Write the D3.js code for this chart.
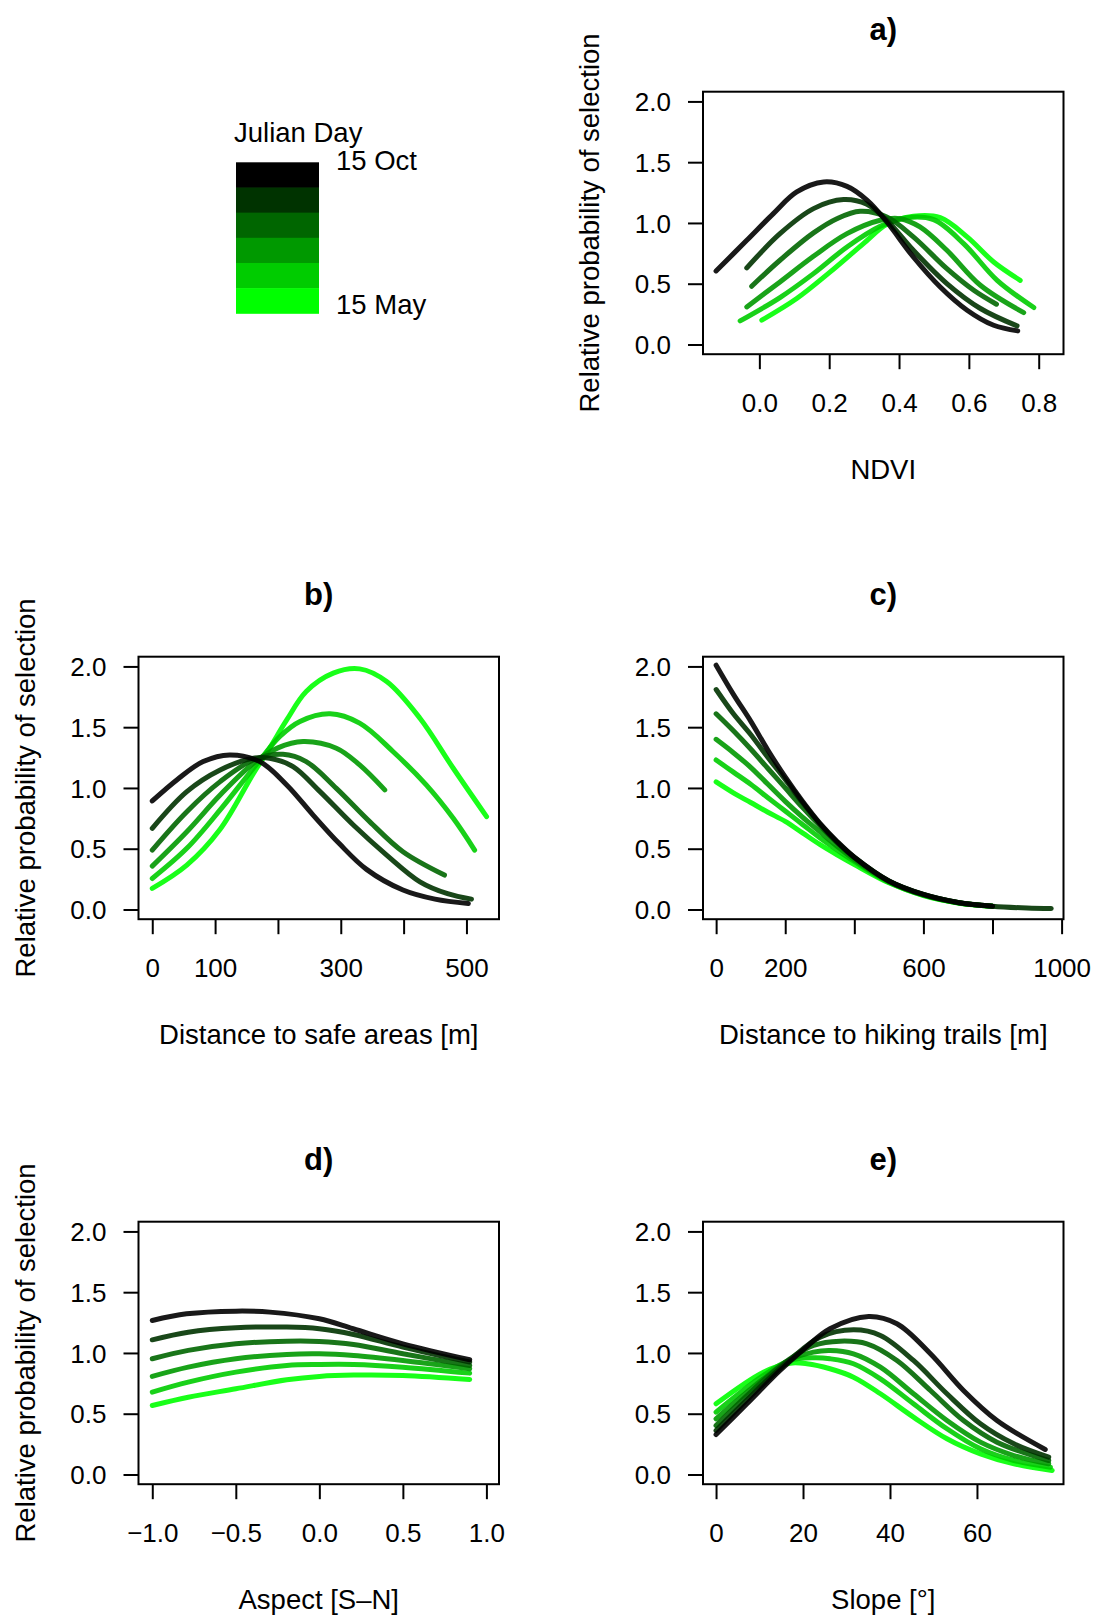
<!DOCTYPE html>
<html lang="en">
<head>
<meta charset="UTF-8">
<title>Relative probability of selection by Julian Day</title>
<script src="https://d3js.org/d3.v7.min.js"></script>
<style>
    body { margin: 0; background: #fff; }
    svg { display: block; font-family: "Liberation Sans", Arial, Helvetica, sans-serif; }
    .box { fill: none; stroke: #000; stroke-width: 2px; }
    .axis path.domain { display: none; }
    .axis line { stroke: #000; stroke-width: 2px; }
    .axis text { font-size: 26px; fill: #000; }
    .curve { fill: none; stroke-width: 5px; stroke-linecap: round; stroke-linejoin: round; }
    .title { font-size: 31px; font-weight: bold; text-anchor: middle; }
    .lab { font-size: 27.5px; text-anchor: middle; }
    .legend text { font-size: 27.5px; }
</style>
</head>
<body>
<div id="chart"></div>
<script>
// colours from 15 Oct (black) to 15 May (bright green)
const dayColors = ["#000000", "#003300", "#006600", "#009900", "#00cc00", "#00ff00"];
const dayLabels = ["15 Oct", "15 May"];

const yTicks = [0, 0.5, 1, 1.5, 2];

// a) NDVI, one list of [x, y] per Julian day (Oct first)
const ndviCurves = [
    [[-0.124, 0.605], [-0.036, 0.857], [0.040, 1.077], [0.107, 1.255], [0.184, 1.337], [0.251, 1.301], [0.309, 1.186], [0.365, 1.008], [0.441, 0.720], [0.518, 0.473], [0.595, 0.282], [0.671, 0.158], [0.740, 0.112]],
    [[-0.036, 0.630], [0.059, 0.912], [0.155, 1.118], [0.241, 1.192], [0.308, 1.153], [0.365, 1.022], [0.441, 0.775], [0.537, 0.501], [0.633, 0.296], [0.738, 0.153]],
    [[-0.022, 0.479], [0.059, 0.693], [0.155, 0.918], [0.222, 1.035], [0.289, 1.096], [0.365, 1.049], [0.441, 0.885], [0.537, 0.624], [0.614, 0.446], [0.679, 0.331]],
    [[-0.036, 0.309], [0.059, 0.515], [0.155, 0.726], [0.251, 0.912], [0.346, 1.022], [0.403, 1.035], [0.460, 0.967], [0.537, 0.775], [0.633, 0.487], [0.757, 0.262]],
    [[-0.055, 0.194], [0.059, 0.386], [0.155, 0.583], [0.251, 0.802], [0.346, 0.972], [0.422, 1.043], [0.499, 1.027], [0.585, 0.830], [0.681, 0.528], [0.786, 0.304]],
    [[0.007, 0.200], [0.107, 0.378], [0.203, 0.597], [0.298, 0.830], [0.365, 0.989], [0.441, 1.055], [0.518, 1.043], [0.595, 0.885], [0.671, 0.679], [0.747, 0.528]]
];

// b) distance to safe areas [m]
const safeCurves = [
    [[0, 0.893], [40, 1.07], [81, 1.217], [123, 1.272], [171, 1.217], [214, 1.025], [256, 0.777], [298, 0.54], [341, 0.33], [399, 0.16], [450, 0.085], [503, 0.049]],
    [[0, 0.668], [55, 0.97], [108, 1.148], [161, 1.245], [187, 1.245], [224, 1.176], [267, 0.97], [320, 0.695], [373, 0.448], [426, 0.228], [470, 0.13], [508, 0.085]],
    [[0, 0.489], [55, 0.805], [108, 1.052], [161, 1.23], [208, 1.277], [245, 1.217], [293, 0.997], [346, 0.723], [399, 0.475], [465, 0.283]],
    [[0, 0.357], [55, 0.64], [108, 0.942], [161, 1.203], [200, 1.33], [240, 1.382], [293, 1.327], [330, 1.19], [370, 0.984]],
    [[0, 0.255], [55, 0.503], [108, 0.819], [161, 1.162], [203, 1.423], [235, 1.547], [283, 1.61], [330, 1.533], [383, 1.3], [436, 1.025], [479, 0.75], [513, 0.489]],
    [[0, 0.173], [55, 0.365], [108, 0.66], [161, 1.12], [187, 1.33], [214, 1.56], [245, 1.794], [288, 1.945], [330, 1.98], [373, 1.876], [426, 1.574], [479, 1.162], [532, 0.764]]
];

// c) distance to hiking trails [m]
const trailCurves = [
    [[0, 2.01], [50, 1.77], [100, 1.55], [150, 1.31], [200, 1.09], [250, 0.89], [300, 0.71], [350, 0.56], [400, 0.43], [500, 0.235], [600, 0.124], [700, 0.058], [800, 0.027]],
    [[0, 1.81], [50, 1.61], [100, 1.44], [150, 1.25], [200, 1.07], [250, 0.88], [300, 0.705], [350, 0.555], [400, 0.43], [500, 0.235], [600, 0.124], [700, 0.058], [800, 0.027], [900, 0.012], [970, 0.008]],
    [[0, 1.61], [50, 1.47], [100, 1.32], [150, 1.16], [200, 1.00], [250, 0.84], [300, 0.69], [350, 0.55], [400, 0.425], [500, 0.233], [600, 0.122], [700, 0.057], [800, 0.026]],
    [[0, 1.40], [50, 1.29], [100, 1.17], [150, 1.03], [200, 0.89], [250, 0.76], [300, 0.64], [350, 0.52], [400, 0.41], [500, 0.23], [600, 0.12], [700, 0.056], [800, 0.026]],
    [[0, 1.23], [50, 1.13], [100, 1.03], [150, 0.92], [200, 0.81], [250, 0.70], [300, 0.59], [350, 0.49], [400, 0.395], [500, 0.225], [600, 0.118], [700, 0.055], [800, 0.026]],
    [[0, 1.05], [50, 0.96], [100, 0.88], [150, 0.80], [200, 0.725], [250, 0.63], [300, 0.535], [350, 0.45], [400, 0.37], [500, 0.22], [600, 0.115], [700, 0.054], [800, 0.026]]
];

// d) aspect [S-N]
const aspectCurves = [
    [[-1, 1.267], [-0.795, 1.322], [-0.5, 1.344], [-0.296, 1.336], [0, 1.281], [0.202, 1.199], [0.5, 1.075], [0.9, 0.944]],
    [[-1, 1.108], [-0.785, 1.171], [-0.5, 1.207], [-0.195, 1.213], [0, 1.199], [0.205, 1.152], [0.5, 1.048], [0.9, 0.925]],
    [[-1, 0.952], [-0.785, 1.021], [-0.5, 1.075], [-0.195, 1.097], [0, 1.095], [0.205, 1.07], [0.5, 0.993], [0.9, 0.897]],
    [[-1, 0.807], [-0.785, 0.883], [-0.5, 0.952], [-0.195, 0.988], [0, 0.993], [0.205, 0.979], [0.5, 0.938], [0.9, 0.87]],
    [[-1, 0.678], [-0.785, 0.76], [-0.5, 0.842], [-0.195, 0.897], [0, 0.905], [0.205, 0.905], [0.5, 0.883], [0.9, 0.834]],
    [[-1, 0.568], [-0.785, 0.636], [-0.5, 0.705], [-0.195, 0.779], [0, 0.807], [0.205, 0.818], [0.5, 0.815], [0.9, 0.782]]
];

// e) slope [deg]
const slopeCurves = [
    [[0, 0.329], [7.1, 0.582], [14.7, 0.856], [20.3, 1.034], [26.2, 1.199], [35.1, 1.30], [41.6, 1.24], [49.3, 0.993], [56.9, 0.691], [64.6, 0.444], [75.7, 0.206]],
    [[0, 0.362], [10.9, 0.746], [17, 0.944], [23.9, 1.13], [31.6, 1.19], [37.8, 1.144], [45.4, 0.938], [53.1, 0.664], [60.8, 0.417], [68.5, 0.252], [76.5, 0.143]],
    [[0, 0.403], [10.9, 0.774], [17, 0.952], [22.4, 1.062], [28.5, 1.097], [34.7, 1.075], [41.6, 0.938], [49.3, 0.691], [56.9, 0.444], [64.6, 0.266], [76.5, 0.115]],
    [[0, 0.458], [10.9, 0.787], [17, 0.944], [22.4, 1.007], [26.2, 1.02], [31.6, 0.993], [37.8, 0.883], [45.4, 0.664], [53.1, 0.444], [60.8, 0.266], [68.5, 0.156], [76.5, 0.088]],
    [[0, 0.513], [10.9, 0.815], [17, 0.938], [22.4, 0.96], [26.2, 0.952], [31.6, 0.911], [37.8, 0.787], [45.4, 0.582], [53.1, 0.376], [60.8, 0.211], [68.5, 0.115], [76.9, 0.06]],
    [[0, 0.582], [10.9, 0.842], [17, 0.916], [20.9, 0.911], [26.2, 0.87], [31.6, 0.801], [37.8, 0.664], [45.4, 0.472], [53.1, 0.294], [60.8, 0.17], [68.5, 0.088], [77.3, 0.033]]
];

const panels = [
    { title: "a)", xlab: "NDVI", col: 1, row: 0, ylab: true, data: ndviCurves,
      xDomain: [-0.1614, 0.871], xTicks: [0, 0.2, 0.4, 0.6, 0.8], xLabels: ["0.0", "0.2", "0.4", "0.6", "0.8"] },
    { title: "b)", xlab: "Distance to safe areas [m]", col: 0, row: 1, ylab: true, data: safeCurves,
      xDomain: [-21.9, 551.8], xTicks: [0, 100, 200, 300, 400, 500], xLabels: ["0", "100", "", "300", "", "500"] },
    { title: "c)", xlab: "Distance to hiking trails [m]", col: 1, row: 1, ylab: false, data: trailCurves,
      xDomain: [-38, 1005.5], xTicks: [0, 200, 400, 600, 800, 1000], xLabels: ["0", "200", "", "600", "", "1000"] },
    { title: "d)", xlab: "Aspect [S\u2013N]", col: 0, row: 2, ylab: true, data: aspectCurves,
      xDomain: [-1.0825, 1.0754], xTicks: [-1, -0.5, 0, 0.5, 1], xLabels: ["\u22121.0", "\u22120.5", "0.0", "0.5", "1.0"] },
    { title: "e)", xlab: "Slope [\u00b0]", col: 1, row: 2, ylab: false, data: slopeCurves,
      xDomain: [-3, 79.9], xTicks: [0, 20, 40, 60], xLabels: ["0", "20", "40", "60"] }
];

const width = 1096, height = 1618;
const colLeft = [138.5, 703], rowTop = [91.7, 656.7, 1221.7];
const boxW = 360.5, boxH = 262.5;

const svg = d3.select("#chart").append("svg")
    .attr("width", width)
    .attr("height", height);

const y = d3.scaleLinear().domain([-0.08, 2.08]).range([boxH, 0]);

panels.forEach(p => {
    const g = svg.append("g")
        .attr("transform", `translate(${colLeft[p.col]},${rowTop[p.row]})`);
    const x = d3.scaleLinear().domain(p.xDomain).range([0, boxW]);

    const line = d3.line()
        .x(d => x(d[0]))
        .y(d => y(d[1]))
        .curve(d3.curveCatmullRom.alpha(0.5));

    // lightest first so the October curve ends up on top
    const order = p.data.map((d, i) => i).reverse();
    g.selectAll(".curve")
        .data(order)
        .enter().append("path")
        .attr("class", "curve")
        .attr("stroke", i => dayColors[i])
        .attr("stroke-opacity", 0.9)
        .attr("d", i => line(p.data[i]));

    g.append("rect")
        .attr("class", "box")
        .attr("width", boxW)
        .attr("height", boxH);

    const xAxis = g.append("g")
        .attr("class", "axis")
        .attr("transform", `translate(0,${boxH})`)
        .call(d3.axisBottom(x).tickValues(p.xTicks).tickSize(15)
            .tickFormat((d, i) => p.xLabels[i]));
    xAxis.selectAll("text").attr("y", 58).attr("dy", null);

    const yAxis = g.append("g")
        .attr("class", "axis")
        .call(d3.axisLeft(y).tickValues(yTicks).tickSize(15).tickFormat(d3.format(".1f")));
    yAxis.selectAll("text").attr("x", -32).attr("dy", "0.35em");

    g.append("text")
        .attr("class", "title")
        .attr("x", boxW / 2)
        .attr("y", -52)
        .text(p.title);

    g.append("text")
        .attr("class", "lab")
        .attr("x", boxW / 2)
        .attr("y", boxH + 125)
        .text(p.xlab);

    if (p.ylab) {
        g.append("text")
            .attr("class", "lab")
            .attr("transform", `translate(-104,${boxH / 2}) rotate(-90)`)
            .text("Relative probability of selection");
    }
});

// colour legend
const legend = svg.append("g").attr("class", "legend");
const band = d3.scaleBand().domain(d3.range(dayColors.length)).range([162.3, 313.3]);
legend.selectAll("rect")
    .data(dayColors)
    .enter().append("rect")
    .attr("x", 236)
    .attr("y", (d, i) => band(i))
    .attr("width", 83)
    .attr("height", band.bandwidth() + 0.5)
    .attr("fill", d => d);
legend.append("text").attr("x", 234).attr("y", 142).text("Julian Day");
legend.append("text").attr("x", 336).attr("y", 170).text(dayLabels[0]);
legend.append("text").attr("x", 336).attr("y", 314).text(dayLabels[1]);
</script>
</body>
</html>
